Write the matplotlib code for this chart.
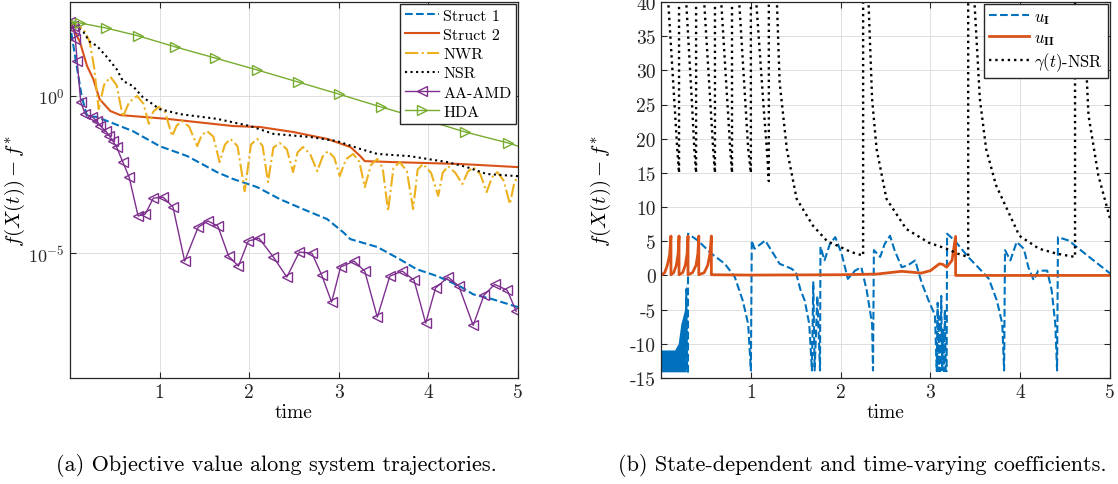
import matplotlib
matplotlib.use("Agg")
import matplotlib.pyplot as plt
import numpy as np

plt.rcParams["font.family"] = "serif"
plt.rcParams["font.serif"] = ["cmr10"]
plt.rcParams["mathtext.fontset"] = "cm"
plt.rcParams["axes.formatter.use_mathtext"] = True
plt.rcParams["axes.unicode_minus"] = False

# ---- panel (a): log10 of f(X(t)) - f* ----
s1_t = [0, 0.02, 0.13, 0.19, 0.30, 0.70, 1.00, 1.31, 1.64, 1.82, 2.09, 2.34, 2.60,
        2.87, 3.05, 3.13, 3.43, 3.68, 3.87, 4.10, 4.35, 4.50, 4.72, 5.00]
s1_v = [2.36, 1.92, 0.0, -0.64, -0.67, -1.12, -1.60, -1.92, -2.43, -2.65, -2.91, -3.29,
        -3.61, -3.93, -4.35, -4.57, -4.82, -5.21, -5.53, -5.75, -6.07, -6.33, -6.49, -6.74]

s2_t = [0, 0.11, 0.19, 0.26, 0.33, 0.45, 0.56, 1.08, 1.82, 2.12, 2.49, 2.87, 3.13,
        3.24, 3.29, 3.60, 4.35, 5.00]
s2_v = [2.36, 1.73, 0.96, 0.54, -0.10, -0.48, -0.61, -0.73, -0.96, -0.99, -1.15, -1.37,
        -1.63, -1.92, -2.08, -2.11, -2.17, -2.27]

nwr_t = [0, 0.15, 0.22, 0.27, 0.32, 0.38, 0.45, 0.52, 0.59, 0.66, 0.75, 0.82, 0.88,
         0.93, 0.99, 1.06, 1.14, 1.19, 1.25, 1.33, 1.42, 1.47, 1.53, 1.60, 1.67, 1.73,
         1.79, 1.87, 1.95, 2.02, 2.09, 2.15, 2.21, 2.27, 2.34, 2.42, 2.49, 2.54, 2.60,
         2.68, 2.76, 2.82, 2.88, 2.95, 3.01, 3.08, 3.16, 3.23, 3.29, 3.36, 3.43, 3.49,
         3.55, 3.61, 3.68, 3.76, 3.83, 3.88, 3.94, 4.03, 4.11, 4.16, 4.22, 4.30, 4.38,
         4.44, 4.50, 4.58, 4.65, 4.71, 4.77, 4.84, 4.91, 4.96, 5.00]
nwr_v = [2.36, 2.14, 1.73, 0.90, -0.42, 0.35, 0.61, 0.35, -0.67, -0.20, 0.0, -0.25,
         -0.89, -0.50, -0.35, -0.50, -1.28, -0.95, -0.80, -0.98, -1.60, -1.25, -1.12,
         -1.30, -2.11, -1.55, -1.37, -1.60, -3.04, -1.55, -1.37, -1.60, -2.75, -1.65,
         -1.50, -1.70, -2.43, -1.80, -1.63, -1.85, -2.40, -1.93, -1.76, -1.97, -2.56,
         -2.02, -1.85, -2.10, -2.91, -2.20, -2.01, -2.30, -3.67, -2.30, -2.11, -2.40,
         -3.61, -2.35, -2.17, -2.45, -3.19, -2.45, -2.24, -2.45, -2.81, -2.42, -2.27,
         -2.50, -3.07, -2.60, -2.43, -2.70, -3.45, -2.75, -2.56]

nsr_t = [0, 0.15, 0.22, 0.30, 0.41, 0.52, 0.59, 0.70, 0.81, 1.00, 1.23, 1.64, 2.01,
         2.27, 2.68, 2.98, 3.24, 3.43, 3.79, 4.21, 4.43, 4.65, 5.00]
nsr_v = [2.36, 2.04, 1.73, 1.60, 1.25, 0.86, 0.48, 0.32, -0.03, -0.42, -0.58, -0.73,
         -0.96, -1.21, -1.31, -1.44, -1.69, -1.85, -1.92, -2.11, -2.27, -2.49, -2.56]

amd_t = [0, 0.03, 0.04, 0.06, 0.08, 0.12, 0.17, 0.25, 0.30, 0.34, 0.40, 0.44, 0.48,
         0.52, 0.59, 0.66, 0.76, 0.84, 0.93, 1.04, 1.15, 1.28, 1.43, 1.54, 1.65, 1.77,
         1.88, 1.99, 2.11, 2.27, 2.42, 2.56, 2.70, 2.81, 2.92, 3.02, 3.17, 3.29, 3.43,
         3.57, 3.71, 3.84, 3.97, 4.08, 4.22, 4.34, 4.50, 4.62, 4.74, 4.88, 4.98]
amd_v = [2.36, 2.24, 2.14, 1.82, 1.12, -0.19, -0.58, -0.67, -0.80, -0.96, -1.12, -1.28,
         -1.44, -1.63, -2.11, -2.59, -3.83, -3.77, -3.26, -3.23, -3.55, -5.27, -4.19,
         -3.99, -4.15, -5.11, -5.43, -4.63, -4.54, -5.14, -5.78, -4.98, -5.02, -5.72,
         -6.58, -5.46, -5.27, -5.59, -7.06, -5.75, -5.59, -5.88, -7.25, -6.13, -5.78,
         -6.07, -7.32, -6.36, -6.01, -6.20, -6.87]

hda_t = [0, 0.11, 0.40, 0.76, 1.17, 1.62, 2.09, 2.54, 3.00, 3.47, 3.93, 4.41, 4.89, 5.00]
hda_v = [2.36, 2.33, 2.17, 1.92, 1.57, 1.21, 0.83, 0.45, 0.06, -0.35, -0.73, -1.15,
         -1.50, -1.60]

# ---- panel (b): coefficients ----
# chattering block of u_I at the start (lower / upper envelope)
blk_t = [0, 0.15, 0.19, 0.22, 0.26, 0.28]
blk_lo = [-14.1, -14.1, -14.1, -14.1, -14.1, -14.1]
blk_hi = [-10.9, -10.9, -10.0, -7.1, -5.1, -1.0]

u1_t = [0.27, 0.28, 0.29, 0.30, 0.30, 0.41, 0.56, 0.71, 0.82, 0.91, 0.97, 1.00, 1.01,
        1.04, 1.16, 1.25, 1.32, 1.45, 1.50, 1.55, 1.60, 1.65, 1.68, 1.695, 1.71, 1.74,
        1.77, 1.775, 1.82, 1.88, 1.94, 2.01, 2.08, 2.16, 2.23, 2.29, 2.35, 2.36, 2.37,
        2.44, 2.49, 2.55, 2.60, 2.68, 2.75, 2.83, 2.90, 2.98, 3.05, 3.07, 3.08, 3.09,
        3.10, 3.11, 3.12, 3.13, 3.14, 3.15, 3.16, 3.17, 3.18, 3.185, 3.27, 3.42, 3.53,
        3.65, 3.74, 3.80, 3.82, 3.83, 3.89, 3.96, 4.04, 4.09, 4.15, 4.20, 4.30, 4.35,
        4.39, 4.41, 4.42, 4.54, 4.72, 4.98, 5.00]
u1_v = [-14.1, -2.0, -14.1, -14.1, 6.1, 5.1, 3.2, 1.7, -0.2, -3.7, -7.1, -13.9, 5.1,
        3.9, 5.1, 3.2, 1.7, 1.0, 0.5, -2.0, -3.7, -7.1, -13.9, -1.0, -13.9, -3.0, -13.9,
        4.2, 2.2, 4.6, 5.6, 3.2, -0.5, 0.7, 1.2, -2.2, -7.1, -13.9, 3.7, 2.7, 4.6, 5.8,
        3.7, 1.2, 1.5, 2.2, -1.0, -3.7, -5.8, -14.0, -4.0, -14.0, -6.0, -14.0, -3.0,
        -14.0, -8.0, -14.0, -5.0, -14.0, -14.0, 6.1, 5.1, 2.7, 1.2, -0.5, -3.7, -7.1,
        -13.9, 3.7, 2.2, 4.9, 3.9, 1.2, -0.7, 0.7, 0.7, -2.2, -7.1, -13.9, 5.6, 5.1,
        3.2, 0.5, 0.3]

u2_t = [0.0, 0.04, 0.07, 0.095, 0.11, 0.11, 0.14, 0.17, 0.19, 0.20, 0.20, 0.24, 0.27,
        0.29, 0.30, 0.30, 0.35, 0.39, 0.41, 0.42, 0.42, 0.48, 0.52, 0.545, 0.56, 0.56,
        1.00, 2.00, 2.40, 2.68, 2.90, 3.00, 3.05, 3.10, 3.14, 3.18, 3.24, 3.28, 3.28, 5.00]
u2_v = [0.0, 0.4, 1.5, 3.0, 5.76, 0.1, 0.4, 1.5, 3.2, 5.76, 0.1, 0.4, 1.5, 3.2, 5.76,
        0.1, 0.4, 1.5, 3.2, 5.76, 0.1, 0.4, 1.5, 3.2, 5.76, 0.1, 0.05, 0.1, 0.2, 0.6,
        0.35, 0.7, 1.2, 1.7, 1.6, 1.2, 2.2, 5.7, 0.0, 0.0]

gam_t = [0.0, 0.08, 0.15, 0.18, 0.20, 0.20, 0.28, 0.345, 0.37, 0.39, 0.39, 0.48, 0.55,
         0.58, 0.60, 0.60, 0.67, 0.74, 0.77, 0.79, 0.79, 0.87, 0.94, 0.97, 1.00, 1.00,
         1.06, 1.14, 1.18, 1.20, 1.20, 1.29, 1.32, 1.40, 1.51, 1.69, 1.85, 1.99, 2.12,
         2.25, 2.25, 2.31, 2.35, 2.40, 2.51, 2.73, 2.98, 3.18, 3.30, 3.42, 3.42, 3.49,
         3.55, 3.62, 3.73, 3.99, 4.21, 4.40, 4.61, 4.61, 4.72, 4.74, 4.76, 4.87, 5.00]
gam_v = [300, 40, 25, 18.5, 15, 300, 40, 25, 18.5, 15, 300, 40, 25, 18.5, 15, 300, 40,
         25, 18.5, 15, 300, 40, 25, 18.5, 15, 300, 40, 25, 18, 13.8, 300, 40, 28.3,
         18.5, 11.2, 7.3, 5.0, 4.2, 3.4, 2.9, 300, 40, 25.8, 18.5, 11.2, 6.8, 4.8, 3.9,
         3.2, 2.7, 300, 40, 25.8, 18.5, 13.2, 5.8, 3.9, 3.2, 2.7, 300, 40, 29, 23.4,
         14.6, 8.3]

blue, orange, yellow = "#0072BD", "#D95319", "#EDB120"
purple, green = "#7E2F8E", "#77AC30"
axcol = "#262626"

fig = plt.figure(figsize=(11.18, 4.85), dpi=100)
ax1 = fig.add_axes([0.0626, 0.2186, 0.4007, 0.7753])
ax2 = fig.add_axes([0.5913, 0.2186, 0.4016, 0.7753])

ax1.plot(s1_t, 10 ** np.array(s1_v), "--", color=blue, lw=1.5, label="Struct 1")
ax1.plot(s2_t, 10 ** np.array(s2_v), "-", color=orange, lw=1.5, label="Struct 2")
ax1.plot(nwr_t, 10 ** np.array(nwr_v), "-.", color=yellow, lw=1.5, label="NWR")
ax1.plot(nsr_t, 10 ** np.array(nsr_v), ":", color="black", lw=1.5, label="NSR")
ax1.plot(amd_t, 10 ** np.array(amd_v), "-", color=purple, lw=1.0, marker="<", ms=7,
         mfc="none", mew=1.0, label="AA-AMD")
ax1.plot(hda_t, 10 ** np.array(hda_v), "-", color=green, lw=1.0, marker=">", ms=7,
         mfc="none", mew=1.0, markevery=list(range(len(hda_t) - 1)), label="HDA")
ax1.set_yscale("log")
ax1.set_xlim(0, 5)
ax1.set_ylim(1e-9, 1e3)
ax1.set_yticks([1e-5, 1e0])
ax1.set_yticklabels(["$10^{-5}$", "$10^{0}$"], fontsize=13)
ax1.minorticks_off()
ax1.set_ylabel("$f(X(t)) - f^{*}$", fontsize=15)
ax1.yaxis.set_label_coords(-0.096, 0.5)
ax1.legend(loc="upper right", fontsize=11.5, handlelength=2.1, borderaxespad=0.1,
           fancybox=False, framealpha=1, edgecolor=axcol, labelspacing=0.32,
           borderpad=0.3, handletextpad=0.3)

ax2.fill_between(blk_t, blk_lo, blk_hi, color=blue, lw=0)
ax2.plot(u1_t, u1_v, "--", color=blue, lw=1.5, label=r"$u_{\mathbf{I}}$")
ax2.plot(u2_t, u2_v, "-", color=orange, lw=2.0, label=r"$u_{\mathbf{II}}$")
ax2.plot(gam_t, gam_v, ":", color="black", lw=1.7, label=r"$\gamma(t)$-NSR")
ax2.set_xlim(0, 5)
ax2.set_ylim(-15, 40)
ax2.set_yticks(np.arange(-15, 41, 5))
ax2.set_yticklabels([str(v) for v in range(-15, 41, 5)], fontsize=14)
ax2.set_ylabel("$f(X(t)) - f^{*}$", fontsize=15)
ax2.yaxis.set_label_coords(-0.107, 0.5)
ax2.legend(loc="upper right", fontsize=12, handlelength=2.4, borderaxespad=0.1,
           fancybox=False, framealpha=1, edgecolor=axcol, labelspacing=0.22,
           borderpad=0.3, handletextpad=0.3)

for ax in (ax1, ax2):
    ax.set_xticks([1, 2, 3, 4, 5])
    ax.set_xticklabels(["1", "2", "3", "4", "5"], fontsize=14)
    ax.set_xlabel("time", fontsize=14, labelpad=1)
    ax.grid(True, color="#dedede", lw=0.7)
    ax.set_axisbelow(True)
    ax.tick_params(direction="in", top=True, right=True, length=4,
                   color=axcol, labelcolor=axcol, pad=4)
    for sp in ax.spines.values():
        sp.set_color(axcol)
        sp.set_linewidth(0.9)

fig.text(0.247, 0.041, "(a) Objective value along system trajectories.",
         ha="center", va="center", fontsize=16)
fig.text(0.771, 0.041, "(b) State-dependent and time-varying coefficients.",
         ha="center", va="center", fontsize=16)

fig.savefig("out.png", dpi=100)
